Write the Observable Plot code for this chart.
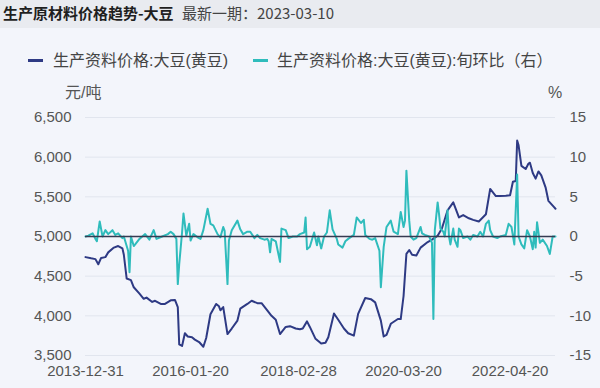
<!DOCTYPE html>
<html>
<head>
<meta charset="utf-8">
<script src="https://cdn.jsdelivr.net/npm/d3@7"></script>
<script src="https://cdn.jsdelivr.net/npm/@observablehq/plot@0.6"></script>
<style>
  html, body { margin: 0; padding: 0; background: #f3f5fb; }
  #wrap { position: relative; width: 600px; height: 388px; background: #f3f5fb; overflow: hidden;
          font-family: "Liberation Sans", "Noto Sans CJK SC", sans-serif; }
  #titlebar { position: absolute; left: 0; top: 0; width: 600px; height: 28px; background: #e9ebf0; }
  #title { position: absolute; left: 3px; top: 3px; font-size: 15px; font-weight: bold; color: #1f1f1f; white-space: nowrap;
           font-family: "Noto Sans CJK SC", sans-serif; line-height: 20px; }
  #sub { position: absolute; left: 182px; top: 3px; font-size: 15px; color: #444; white-space: nowrap; line-height: 20px;
         font-family: "Noto Sans CJK SC", sans-serif; }
  .leg { position: absolute; top: 50px; font-size: 16px; color: #444; white-space: nowrap; line-height: 22px;
         font-family: "Liberation Sans", "Noto Sans CJK SC", sans-serif; }
  .sw { position: absolute; top: 59px; width: 15px; height: 3px; }
  .unit { position: absolute; top: 82px; font-size: 16px; color: #555; white-space: nowrap; line-height: 22px;
          font-family: "Liberation Sans", "Noto Sans CJK SC", sans-serif; }
  #plot { position: absolute; left: 0; top: 0; }
</style>
</head>
<body>
<div id="wrap">
  <div id="titlebar"></div>
  <div id="title">生产原材料价格趋势-大豆</div>
  <div id="sub">最新一期：2023-03-10</div>
  <div class="sw" style="left:28px;background:#2e3a84"></div>
  <div class="leg" style="left:53px">生产资料价格:大豆(黄豆)</div>
  <div class="sw" style="left:253px;background:#2fbcbc"></div>
  <div class="leg" style="left:277px">生产资料价格:大豆(黄豆):旬环比（右）</div>
  <div class="unit" style="left:65px">元/吨</div>
  <div class="unit" style="left:548px">%</div>
  <div id="plot"></div>
</div>
<script>
// x = ten-day period number (0 = 2013-12-31, 331 = 2023-03-10)
const tickIdx = [0, 74, 150, 224, 299];
const tickLabels = ["2013-12-31", "2016-01-20", "2018-02-28", "2020-03-20", "2022-04-20"];
const priceTicks = [3500, 4000, 4500, 5000, 5500, 6000, 6500];
const pctTicks = [-15, -10, -5, 0, 5, 10, 15];

// 生产资料价格:大豆(黄豆), 元/吨
const priceIdx = [0,4,7,9,11,14,16,20,23,26,27,29,32,34,38,41,43,47,49,53,56,60,63,65,66,68,70,72,75,77,80,83,85,88,92,94,95,97,100,103,107,109,114,117,121,124,128,131,134,137,141,144,148,151,153,156,158,162,166,169,171,175,178,182,185,189,192,197,201,204,208,210,212,215,220,222,224,226,228,230,233,236,241,244,248,251,255,259,263,266,270,273,277,282,285,289,292,296,299,301,303,304,305,307,310,312,313,315,317,319,321,324,326,330,331];
const priceVal = [4740,4725,4715,4650,4730,4740,4800,4860,4880,4850,4770,4470,4450,4360,4280,4215,4230,4175,4190,4150,4150,4195,4200,4110,3640,3620,3780,3740,3730,3700,3670,3610,3720,4020,4150,4120,4070,4110,3770,3840,3940,4090,4150,4190,4160,4160,4070,4000,3950,3770,3860,3870,3840,3830,3840,3930,3860,3710,3650,3660,3730,4030,3950,3840,3780,3750,4025,4225,4210,4170,3940,3740,3760,3900,3960,3960,4250,4780,4830,4770,4760,4860,4930,4960,5010,5100,5330,5430,5240,5270,5230,5210,5190,5280,5600,5510,5510,5515,5520,5690,5700,6210,6150,5890,5850,5920,5930,5800,5730,5820,5770,5620,5450,5370,5350];

// 生产资料价格:大豆(黄豆):旬环比, %
const pctIdx = [0,2,5,7,8,10,12,14,16,19,21,23,26,27,30,31,32,34,35,38,40,42,45,48,50,54,58,60,62,64,65,66,68,69,71,73,74,76,79,81,83,86,88,90,93,95,97,98,100,101,103,107,109,111,114,116,119,121,123,126,128,129,130,131,134,137,138,141,143,146,149,151,154,155,156,158,161,163,164,166,168,170,172,174,177,178,181,183,185,189,191,194,196,197,200,202,204,207,208,210,212,215,217,220,222,224,225,226,228,229,231,233,236,237,239,242,244,245,246,248,249,250,252,253,255,256,257,259,260,262,263,264,266,269,271,273,276,278,280,282,284,285,287,290,292,296,298,300,302,304,305,307,309,311,313,315,316,317,318,320,322,325,327,329,331];
const pctVal = [0,0.1,0.4,-0.3,-0.6,1.9,0,0.8,0.3,0.8,0.2,0.4,-0.2,0,-1.8,-4.5,0,-1.2,-1.0,-0.3,0,0.3,-0.4,0.8,-0.3,0,0.3,0.6,0.3,-0.3,-6.0,-3.5,0.5,2.9,0.1,1.6,-0.5,0.3,-0.1,-0.3,0.8,3.5,1.6,1.4,0.3,-0.1,1.2,0.7,-6.0,-0.5,0.8,2.0,0.9,0.3,0.6,0.6,-0.2,0.2,-0.2,-0.4,-0.3,-0.6,-2.0,-0.3,-0.6,-3.2,1.0,0.8,-0.2,0,0,0.3,0.5,2.4,-1.6,-1.3,0.5,-1.1,0,-1.5,0,0.5,3.3,0.9,-0.3,-1.0,-1.4,-0.6,-0.3,0.2,2.4,1.7,2.1,0.2,-0.3,-0.4,-0.2,-1.8,-6.4,-1.3,1.2,2.0,0.6,0.3,3.1,1.2,2.0,8.3,2.0,0,-0.4,-0.2,1.2,0.4,0.2,0,-0.8,-10.4,0.8,4.3,2.8,1.0,0.6,0,3.3,0,-1.0,1.0,-0.4,-1.3,1.0,0.8,-0.2,0,-0.4,0.2,0,0.6,0,1.6,2.0,0.8,0,-0.2,0,0.2,1.6,1.2,-1.0,7.8,0,-1.0,-1.5,0.8,0,-1.6,0.6,-1.4,1.8,-0.8,-0.4,-1.2,-2.2,0,0];

const priceData = priceIdx.map((x, i) => ({x, v: priceVal[i]}));
const pctData = pctIdx.map((x, i) => ({x, p: pctVal[i]}));
// right axis (%) shares the left scale: 0% ↔ 5,000, 1% ↔ 100
const pctToY = p => 5000 + p * 100;

const chart = Plot.plot({
  width: 600,
  height: 388,
  marginTop: 117,
  marginBottom: 33,
  marginLeft: 85,
  marginRight: 45,
  style: {background: "transparent", fontFamily: "'Liberation Sans', 'Noto Sans CJK SC', sans-serif", fontSize: "15px", color: "#555"},
  x: {domain: [0, 331], axis: null},
  y: {domain: [3500, 6500], axis: null},
  marks: [
    Plot.gridY(priceTicks, {stroke: "#e1e5ee", strokeOpacity: 1, strokeWidth: 1}),
    Plot.axisY(priceTicks, {label: null, tickSize: 0, tickPadding: 14, tickFormat: d3.format(","), fill: "#555"}),
    Plot.axisY(pctTicks.map(pctToY), {label: null, anchor: "right", tickSize: 0, tickPadding: 14, tickFormat: d => String((d - 5000) / 100), fill: "#555"}),
    Plot.axisX(tickIdx, {label: null, tickSize: 0, tickPadding: 10, tickFormat: d => tickLabels[tickIdx.indexOf(d)], fill: "#555"}),
    Plot.line(priceData, {x: "x", y: "v", stroke: "#2e3a84", strokeWidth: 2}),
    Plot.line(pctData, {x: "x", y: d => pctToY(d.p), stroke: "#2fbcbc", strokeWidth: 2}),
    Plot.ruleY([pctToY(0)], {stroke: "#363b52", strokeWidth: 1.5})
  ]
});
document.getElementById("plot").appendChild(chart);
</script>
</body>
</html>
